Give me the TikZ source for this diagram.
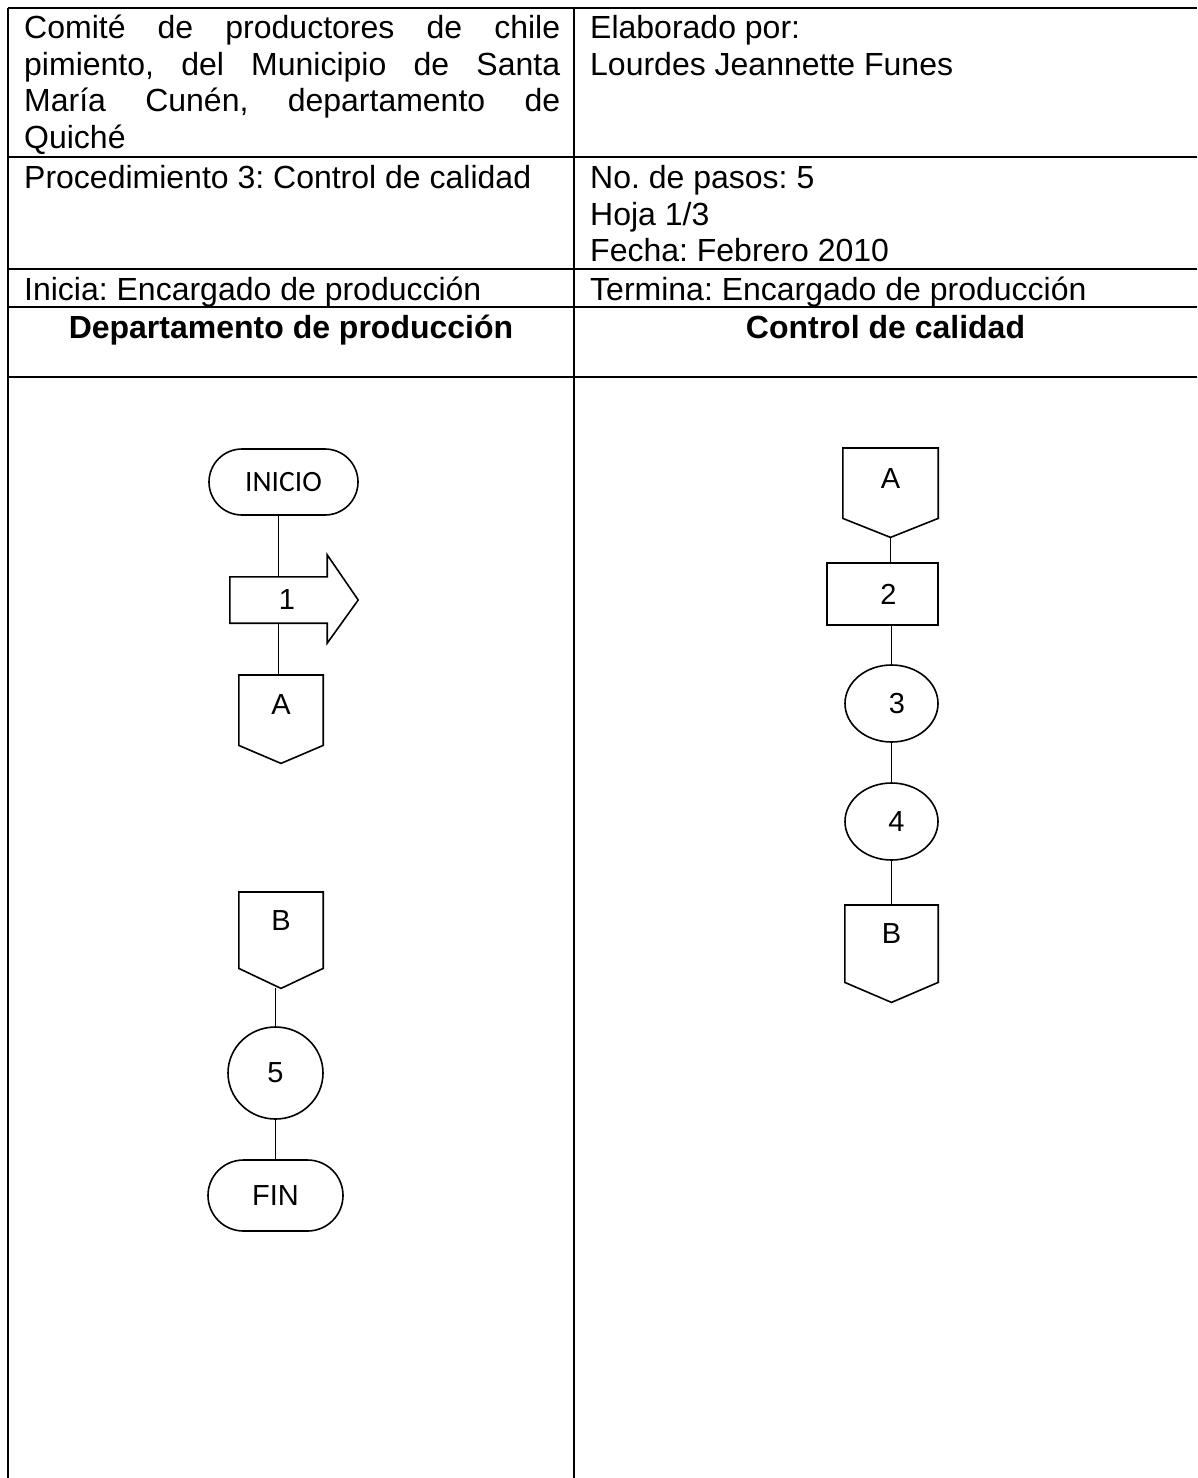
\documentclass[tikz,border=0pt]{standalone}
\usepackage{fontspec}
\setmainfont{Liberation Sans}
\newfontfamily\calib{Carlito}
\frenchspacing
\usetikzlibrary{shapes.geometric,shapes.misc,calc}
\newcommand\opcshape[2]{\draw[fl] (#1.north west) -- (#1.north east) -- (#1.south east) -- ($(#1.south)+(0,#2)$) coordinate (#1tip) -- (#1.south west) -- cycle;}
\begin{document}
\begin{tikzpicture}[x=1pt,y=-1pt,
  tab/.style={line width=1.8pt},
  fl/.style={line width=1.6pt},
  txt/.style={anchor=base west,inner sep=0pt,font=\fontsize{32}{36.5}\selectfont},
  hdr/.style={anchor=base,inner sep=0pt,font=\fontsize{32}{36.5}\selectfont\bfseries},
  lbl/.style={font=\fontsize{29}{32}\selectfont},
  term/.style={rounded rectangle,draw,fl,inner sep=0pt},
  opc/.style={lbl,anchor=north,inner sep=0pt,minimum width=#1,text height=20pt},
  ell/.style={ellipse,draw,fl,inner sep=0pt,lbl}]
\fill[white] (0,0) rectangle (1197,1478);
\useasboundingbox (0,0) rectangle (1197,1478);
% table
\draw[tab] (8,8) -- (1197,8);
\draw[tab] (8,157) -- (1197,157);
\draw[tab] (8,269) -- (1197,269);
\draw[tab] (8,307) -- (1197,307);
\draw[tab] (8,377) -- (1197,377);
\draw[tab] (8,8) -- (8,1478);
\draw[tab] (574,8) -- (574,1478);
% texts
\node[txt] (c1) at (24,38.5) {\makebox[536pt][s]{Comité de productores de chile}};
\node[txt] (c2) at (24,75) {\makebox[536pt][s]{pimiento, del Municipio de Santa}};
\node[txt] (c3t) at (24,111.5) {\makebox[536pt][s]{María Cunén, departamento de}};
\node[txt] (c4t) at (24,148) {Quiché};
\node[txt] (e1) at (590,38.5) {Elaborado por:};
\node[txt] (e2) at (590,75) {Lourdes Jeannette Funes};
\node[txt] (p1) at (24,188.5) {Procedimiento 3: Control de calidad};
\node[txt] (n1) at (590,188.5) {No. de pasos: 5};
\node[txt] (n2) at (590,225) {Hoja 1/3};
\node[txt] (n3) at (590,261.5) {Fecha: Febrero 2010};
\node[txt] (i1) at (24,300.5) {Inicia: Encargado de producción};
\node[txt] (t1) at (590,300.5) {Termina: Encargado de producción};
\node[hdr] (h1) at (291,338.5) {Departamento de producción};
\node[hdr] (h2) at (885.5,338.5) {Control de calidad};
% left flow
\node[term,minimum width=149pt,minimum height=66pt,font=\fontsize{29.5}{32}\selectfont\calib] (ini) at (283.5,482) {INICIO};
\node[inner sep=0pt,minimum width=97pt,minimum height=46pt,lbl] (s1) at (278.5,600) {\hspace{17pt}1};
\draw[fl] (s1.north west) -- (s1.north east) -- ($(s1.north east)+(0,-22)$) -- ($(s1.east)+(31,0)$) -- ($(s1.south east)+(0,20)$) -- (s1.south east) -- (s1.south west) -- cycle;
\node[opc=84pt,minimum height=70pt,text depth=11.2pt] (A1) at (281,675) {A};
\opcshape{A1}{18}
\node[opc=84pt,minimum height=76pt,text depth=19.2pt] (B1) at (281,892) {B};
\opcshape{B1}{20}
\node[ell,minimum width=95pt,minimum height=92pt] (c5) at (275.5,1073) {5};
\node[term,minimum width=135pt,minimum height=71pt,lbl] (fin) at (275.5,1195.5) {FIN};
\draw[fl] (ini.south -| s1.north) -- (s1.north);
\draw[fl] (s1.south) -- (s1.south |- A1.north);
\draw[fl] (c5.north |- B1tip) -- (c5.north);
\draw[fl] (c5.south) -- (fin.north);
% right flow
\node[opc=95pt,minimum height=70pt,text depth=9.2pt] (A2) at (890.5,448) {A};
\opcshape{A2}{19}
\node[draw,fl,inner sep=0pt,minimum width=111pt,minimum height=62pt,lbl] (r2) at (882.5,594) {\hspace{12pt}2};
\node[ell,minimum width=93pt,minimum height=77pt] (c3) at (891.5,703.5) {\hspace{11pt}3};
\node[ell,minimum width=93pt,minimum height=77pt] (c4) at (891.5,821.5) {\hspace{10pt}4};
\node[opc=93pt,minimum height=77pt,text depth=20.2pt] (B2) at (891.5,905) {B};
\opcshape{B2}{20}
\draw[fl] (A2tip) -- (A2tip |- r2.north);
\draw[fl] (c3.north |- r2.south) -- (c3.north);
\draw[fl] (c3.south) -- (c4.north);
\draw[fl] (c4.south) -- (c4.south |- B2.north);
\end{tikzpicture}
\end{document}
